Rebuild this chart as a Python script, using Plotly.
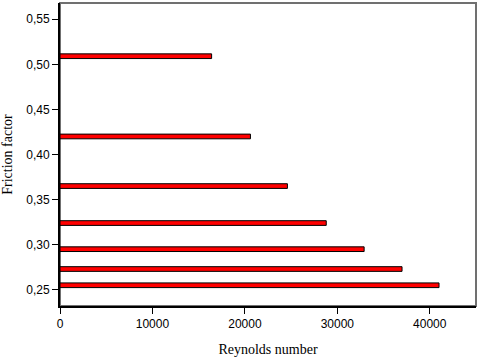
import plotly.graph_objects as go

reynolds = [16400, 20600, 24600, 28800, 32900, 37000, 41000]
friction = [0.509, 0.420, 0.365, 0.324, 0.295, 0.273, 0.255]

fig = go.Figure()
fig.add_trace(
    go.Bar(
        x=reynolds,
        y=friction,
        orientation='h',
        width=0.0052,
        marker=dict(color='red', line=dict(color='black', width=1)),
        showlegend=False,
    ))

# grey frame on top and right
fig.add_shape(type='rect', xref='paper', yref='paper', x0=0, y0=0, x1=1, y1=1,
              line=dict(color='#707070', width=2), layer='below')

fig.update_layout(
    width=480, height=357,
    margin=dict(l=60, r=4, t=3, b=51),
    paper_bgcolor='white', plot_bgcolor='white',
    separators=', ',
    font=dict(family='Liberation Sans, Arial', size=12, color='black'),
)
fig.update_xaxes(
    range=[0, 45000], tickvals=[0, 10000, 20000, 30000, 40000], tickformat='d',
    showgrid=False, zeroline=False, showline=True, linecolor='black', linewidth=2,
    ticks='outside', ticklen=6, tickcolor='black', tickwidth=1, automargin=False,
    title=dict(text='Reynolds number',
               font=dict(family='Liberation Serif, Times New Roman', size=14)),
)
fig.update_yaxes(
    range=[0.232, 0.568], tickvals=[0.25, 0.30, 0.35, 0.40, 0.45, 0.50, 0.55], tickformat='.2f',
    showgrid=False, zeroline=False, showline=True, linecolor='black', linewidth=2,
    ticks='outside', ticklen=6, tickcolor='black', tickwidth=1, automargin=False,
    title=dict(text='Friction factor',
               font=dict(family='Liberation Serif, Times New Roman', size=14)),
)

# the page body has a default 8px margin; drop it so the chart sits at the corner
fig.write_html("out.html", config={'displayModeBar': False},
               post_script="document.body.style.margin='0';")
